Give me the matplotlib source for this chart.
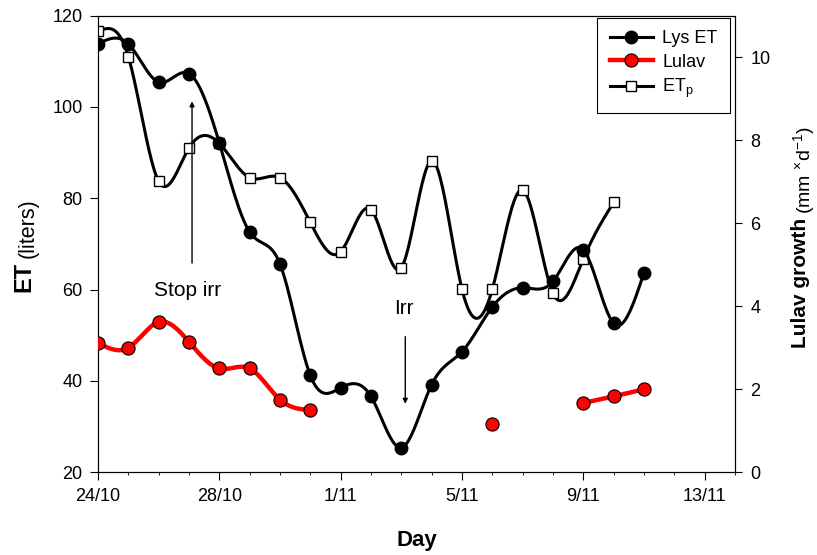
"""ET лизиметра, ETp и прирост лулава по дням (24/10 - 11/11)."""

import matplotlib

matplotlib.use("Agg")
import matplotlib.pyplot as plt  # noqa: E402
import numpy as np  # noqa: E402
from matplotlib.lines import Line2D  # noqa: E402

plt.rcParams["font.family"] = ["Liberation Sans", "DejaVu Sans"]
plt.rcParams["mathtext.fontset"] = "custom"
plt.rcParams["mathtext.rm"] = "Liberation Sans"
plt.rcParams["mathtext.it"] = "Liberation Sans:italic"
plt.rcParams["mathtext.bf"] = "Liberation Sans:bold"

# день 0 = 24/10
DAYS = list(range(19))
LYS_ET = [113.8, 113.8, 105.4, 107.3, 92.1, 72.6, 65.6, 41.2, 38.5, 36.6,
          25.4, 39.2, 46.4, 56.2, 60.4, 61.8, 68.7, 52.6, 63.7]
ETP = [116.5, 111.0, 83.7, 91.0, 92.0, 84.5, 84.5, 74.7, 68.3, 77.5,
       64.8, 88.2, 60.1, 60.1, 81.8, 59.2, 66.7, 79.1, None]
LULAV = [3.12, 3.00, 3.62, 3.14, 2.50, 2.50, 1.75, 1.50, None, None,
         None, None, None, 1.17, None, None, 1.67, 1.83, 2.00]

XTICKS = [0, 4, 8, 12, 16, 20]
XTICK_LABELS = ["24/10", "28/10", "1/11", "5/11", "9/11", "13/11"]

LW_BLACK = 2.2
LW_RED = 3.2


def runs(x, y):
    """Непрерывные куски ряда (None = пропуск)."""
    out, cur = [], []
    for xi, yi in zip(x, y):
        if yi is None:
            if cur:
                out.append(cur)
            cur = []
        else:
            cur.append((xi, yi))
    if cur:
        out.append(cur)
    return out


def smooth(pts, per=25):
    """Натуральный кубический сплайн через точки — только для линии."""
    x = np.array([p[0] for p in pts], float)
    y = np.array([p[1] for p in pts], float)
    n = len(x)
    if n < 3:
        return x, y
    h = np.diff(x)
    A = np.zeros((n, n))
    r = np.zeros(n)
    A[0, 0] = A[-1, -1] = 1.0
    for i in range(1, n - 1):
        A[i, i - 1] = h[i - 1]
        A[i, i] = 2 * (h[i - 1] + h[i])
        A[i, i + 1] = h[i]
        r[i] = 6 * ((y[i + 1] - y[i]) / h[i] - (y[i] - y[i - 1]) / h[i - 1])
    M = np.linalg.solve(A, r)
    xs, ys = [], []
    for i in range(n - 1):
        t = np.linspace(x[i], x[i + 1], per, endpoint=(i == n - 2))
        a = x[i + 1] - t
        b = t - x[i]
        s = ((M[i] * a ** 3 + M[i + 1] * b ** 3) / (6 * h[i])
             + (y[i] / h[i] - M[i] * h[i] / 6) * a
             + (y[i + 1] / h[i] - M[i + 1] * h[i] / 6) * b)
        xs.append(t)
        ys.append(s)
    return np.concatenate(xs), np.concatenate(ys)


def draw_series(ax, x, y, color, lw, zorder):
    for seg in runs(x, y):
        sx, sy = smooth(seg)
        ax.plot(sx, sy, color=color, lw=lw, zorder=zorder,
                solid_capstyle="round")


fig = plt.figure(figsize=(8.17, 5.55), dpi=100)
ax = fig.add_axes([98 / 817, 1 - 472.3 / 555, 637 / 817, 456.8 / 555])
ax2 = ax.twinx()

# ETp — квадраты
draw_series(ax, DAYS, ETP, "black", LW_BLACK, 2)
ex = [d for d, v in zip(DAYS, ETP) if v is not None]
ey = [v for v in ETP if v is not None]
ax.plot(ex, ey, ls="none", marker="s", ms=7.5, mfc="white", mec="black",
        mew=1.0, zorder=3)

# Lys ET — чёрные круги
draw_series(ax, DAYS, LYS_ET, "black", LW_BLACK, 4)
ax.plot(DAYS, LYS_ET, ls="none", marker="o", ms=9, mfc="black",
        mec="black", zorder=5)

# Lulav — красные круги (правая ось)
draw_series(ax2, DAYS, LULAV, "#ff0000", LW_RED, 2)
lx = [d for d, v in zip(DAYS, LULAV) if v is not None]
ly = [v for v in LULAV if v is not None]
ax2.plot(lx, ly, ls="none", marker="o", ms=9.5, mfc="#ff0000",
         mec="black", mew=0.8, zorder=3)

# аннотации
ax.text(2.95, 59.8, "Stop irr", ha="center", va="center", fontsize=15)
ax.annotate("", xy=(3.1, 101.2), xytext=(3.1, 65.8),
            arrowprops=dict(arrowstyle="-|>", lw=1.0, color="black",
                            mutation_scale=7, shrinkA=0, shrinkB=0))
ax.text(10.1, 55.8, "Irr", ha="center", va="center", fontsize=15)
ax.annotate("", xy=(10.13, 35.0), xytext=(10.13, 49.7),
            arrowprops=dict(arrowstyle="-|>", lw=1.0, color="black",
                            mutation_scale=7, shrinkA=0, shrinkB=0))

# оси
ax.set_xlim(0, 21)
ax.set_ylim(20, 120)
ax2.set_ylim(0, 11)
ax.set_xticks(XTICKS)
ax.set_xticklabels(XTICK_LABELS)
ax.set_xticks(range(0, 22), minor=True)
ax.set_yticks([20, 40, 60, 80, 100, 120])
ax2.set_yticks([0, 2, 4, 6, 8, 10])
ax.tick_params(axis="both", which="major", direction="out", length=6,
               width=0.8, labelsize=13, pad=5)
ax.tick_params(axis="x", which="minor", direction="out", length=2.5,
               width=0.6)
ax.tick_params(axis="y", which="minor", length=0)
ax2.tick_params(axis="y", direction="out", length=5, width=0.8,
                labelsize=13, pad=6)
for a in (ax, ax2):
    for sp in a.spines.values():
        sp.set_linewidth(0.8)

ax.set_xlabel("Day", fontsize=16, fontweight="bold", labelpad=18)

# подписи осей Y: жирная часть крупнее
t1 = fig.text(24 / 817, 1 - 292 / 555, "ET", rotation=90, ha="center",
              va="bottom", fontsize=17, fontweight="bold")
ax.annotate("(liters)", xy=(0.5, 1), xycoords=t1, xytext=(3, 3),
            textcoords="offset points", rotation=90, ha="center",
            va="bottom", fontsize=15.5)
t2 = fig.text(801 / 817, 1 - 348 / 555, "Lulav growth", rotation=90,
              ha="center", va="bottom", fontsize=15, fontweight="bold")
ax.annotate(r"(mm $^{\times}$d$^{-1}$)", xy=(0.5, 1), xycoords=t2,
            xytext=(2, 3), textcoords="offset points", rotation=90,
            ha="center", va="bottom", fontsize=14)

# легенда
handles = [
    Line2D([], [], color="black", lw=LW_BLACK, marker="o", ms=9,
           mfc="black", mec="black"),
    Line2D([], [], color="#ff0000", lw=LW_RED, marker="o", ms=9.5,
           mfc="#ff0000", mec="black", mew=0.8),
    Line2D([], [], color="black", lw=LW_BLACK, marker="s", ms=7.5,
           mfc="white", mec="black", mew=1.0),
]
leg = ax2.legend(handles, ["Lys ET", "Lulav", r"ET$_{\rm p}$"],
                 loc="upper right", bbox_to_anchor=(0.992, 0.995),
                 borderaxespad=0, fancybox=False, edgecolor="black",
                 framealpha=1, fontsize=13, handlelength=2.4,
                 handletextpad=0.5, labelspacing=0.35, borderpad=0.7)
leg.get_frame().set_linewidth(0.8)

fig.savefig("out.png", dpi=100)
plt.close(fig)
